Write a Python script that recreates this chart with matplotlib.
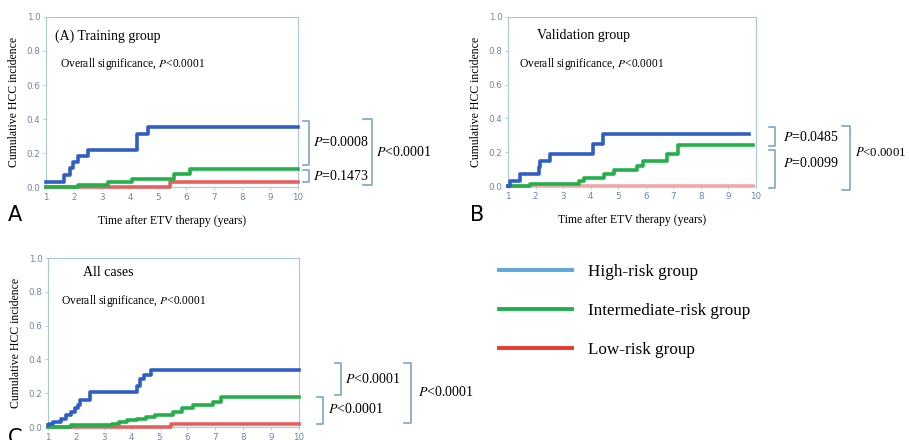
import matplotlib
matplotlib.use("Agg")
import matplotlib.pyplot as plt
from matplotlib.lines import Line2D

plt.rcParams['font.family'] = ['Liberation Serif', 'DejaVu Serif']
plt.rcParams['mathtext.fontset'] = 'stix'

# Step data: (time in years, cumulative incidence)
a_high_t = [1, 1.66, 1.84, 1.98, 2.16, 2.5, 4.26, 4.64, 10]
a_high_v = [0.03, 0.07, 0.11, 0.15, 0.18, 0.22, 0.31, 0.355, 0.355]
a_mid_t = [1, 2.16, 3.23, 4.08, 5.56, 6.14, 10]
a_mid_v = [0.0, 0.01, 0.03, 0.045, 0.075, 0.105, 0.105]
a_low_t = [1, 5.42, 10]
a_low_v = [0.0, 0.03, 0.03]

b_high_t = [1, 1.06, 1.45, 2.11, 2.17, 2.53, 4.1, 4.43, 9.76]
b_high_v = [0.0, 0.03, 0.07, 0.11, 0.15, 0.19, 0.25, 0.31, 0.31]
b_mid_t = [1, 1.81, 3.56, 3.74, 4.47, 4.83, 5.67, 5.89, 6.76, 7.18, 9.9]
b_mid_v = [0.0, 0.01, 0.03, 0.05, 0.07, 0.095, 0.12, 0.15, 0.19, 0.24, 0.24]
b_low_t = [1, 9.9]
b_low_v = [0.0, 0.0]

c_high_t = [1, 1.05, 1.18, 1.48, 1.66, 1.81, 1.96, 2.08, 2.14, 2.49, 4.2, 4.29, 4.44, 4.7, 10]
c_high_v = [0.01, 0.02, 0.03, 0.05, 0.07, 0.09, 0.11, 0.13, 0.16, 0.205, 0.24, 0.285, 0.31, 0.335, 0.335]
c_mid_t = [1, 1.84, 3.3, 3.55, 3.85, 4.2, 4.5, 4.85, 5.5, 5.8, 6.2, 6.9, 7.2, 10]
c_mid_v = [0.0, 0.01, 0.02, 0.03, 0.04, 0.05, 0.06, 0.07, 0.09, 0.11, 0.13, 0.15, 0.175, 0.175]
c_low_t = [1, 5.42, 10]
c_low_v = [0.0, 0.015, 0.015]

x_ticks = list(range(1, 11))
y_ticks = [0.0, 0.2, 0.4, 0.6, 0.8, 1.0]

group_names = ["High-risk group", "Intermediate-risk group", "Low-risk group"]

BLUE = "#2f5fc4"
GREEN = "#22b04a"
RED = "#e4615f"
FRAME = "#a9c8dc"
TICK = "#6d87a3"

W, H = 909, 440
fig = plt.figure(figsize=(W / 100, H / 100), dpi=100)


def fx(px):
    return px / W


def fy(py):
    return 1 - py / H


def ftext(px, py, s, **kw):
    fig.text(fx(px), fy(py), s, transform=fig.transFigure, **kw)


def bracket(px, top, bot, arm=6):
    xs = [fx(px - arm), fx(px), fx(px), fx(px - arm)]
    ys = [fy(top), fy(top), fy(bot), fy(bot)]
    fig.add_artist(Line2D(xs, ys, transform=fig.transFigure, color="#7fa7bf", lw=1.2))


def make_axes(left, top, right, bottom, title, title_px, sig_px, series):
    ax = fig.add_axes([fx(left), fy(bottom), fx(right - left), (bottom - top) / H])
    for t, v, c in series:
        ax.step(t, v, where='post', color=c, lw=2.6, clip_on=False, zorder=3)
    ax.set_xlim(1, 10)
    ax.set_ylim(0, 1)
    ax.set_xticks(x_ticks)
    ax.set_yticks(y_ticks)
    ax.set_yticklabels([f"{v:.1f}" for v in y_ticks])
    ax.tick_params(colors=FRAME, labelcolor=TICK, labelsize=6.3, length=2, width=0.6, pad=2)
    for lab in ax.get_xticklabels() + ax.get_yticklabels():
        lab.set_family('DejaVu Sans')
    for sp in ax.spines.values():
        sp.set_color(FRAME)
        sp.set_linewidth(0.8)
    ax.set_ylabel("Cumulative HCC incidence", fontsize=8.5, labelpad=5)
    ax.set_xlabel("Time after ETV therapy (years)", fontsize=8.5, labelpad=10)
    ftext(title_px[0], title_px[1], title, fontsize=10, va='center')
    ftext(sig_px[0], sig_px[1], r"Overall significance, $P$<0.0001", fontsize=8.3, va='center')
    return ax


make_axes(46, 17, 298, 187, "(A) Training group", (55, 36), (60, 64),
          [(a_low_t, a_low_v, RED), (a_mid_t, a_mid_v, GREEN), (a_high_t, a_high_v, BLUE)])
make_axes(508, 17, 756, 186, "Validation group", (537, 36), (519, 64),
          [(b_low_t, b_low_v, "#f0a8a8"), (b_mid_t, b_mid_v, GREEN), (b_high_t, b_high_v, BLUE)])
make_axes(48, 258, 299, 427, "All cases", (83, 272), (61, 301),
          [(c_low_t, c_low_v, RED), (c_mid_t, c_mid_v, GREEN), (c_high_t, c_high_v, BLUE)])

# panel letters
ftext(8, 221, "A", fontsize=15, family='DejaVu Sans', va='baseline')
ftext(470, 221, "B", fontsize=15, family='DejaVu Sans', va='baseline')
ftext(8, 444, "C", fontsize=15, family='DejaVu Sans', va='baseline')

# pairwise comparison brackets
pk = dict(fontsize=10, va='center')
bracket(309, 121, 165)
bracket(309, 170, 182)
bracket(372, 119, 185, arm=9)
ftext(313, 142, r"$P$=0.0008", **pk)
ftext(313, 176, r"$P$=0.1473", **pk)
ftext(376, 152, r"$P$<0.0001", **pk)

bracket(775, 127, 146)
bracket(775, 150, 188)
bracket(850, 126, 190, arm=8)
ftext(783, 137, r"$P$=0.0485", **pk)
ftext(783, 163, r"$P$=0.0099", **pk)
ftext(855, 152, r"$P$<0.0001", fontsize=9.2, va='center')

bracket(341, 363, 395)
bracket(323, 397, 424)
bracket(411, 363, 423, arm=7)
ftext(345, 379, r"$P$<0.0001", **pk)
ftext(328, 409, r"$P$<0.0001", **pk)
ftext(418, 392, r"$P$<0.0001", **pk)

# legend drawn by hand
legend_colors = ["#5ba6de", "#1fb04f", "#e83a2f"]
for i, (name, col) in enumerate(zip(group_names, legend_colors)):
    py = 270 + i * 39
    fig.add_artist(Line2D([fx(499), fx(572)], [fy(py), fy(py)], transform=fig.transFigure,
                          color=col, lw=2.8))
    ftext(588, py + 2, name, fontsize=12.3, va='center')

fig.savefig("out.png", dpi=100)
